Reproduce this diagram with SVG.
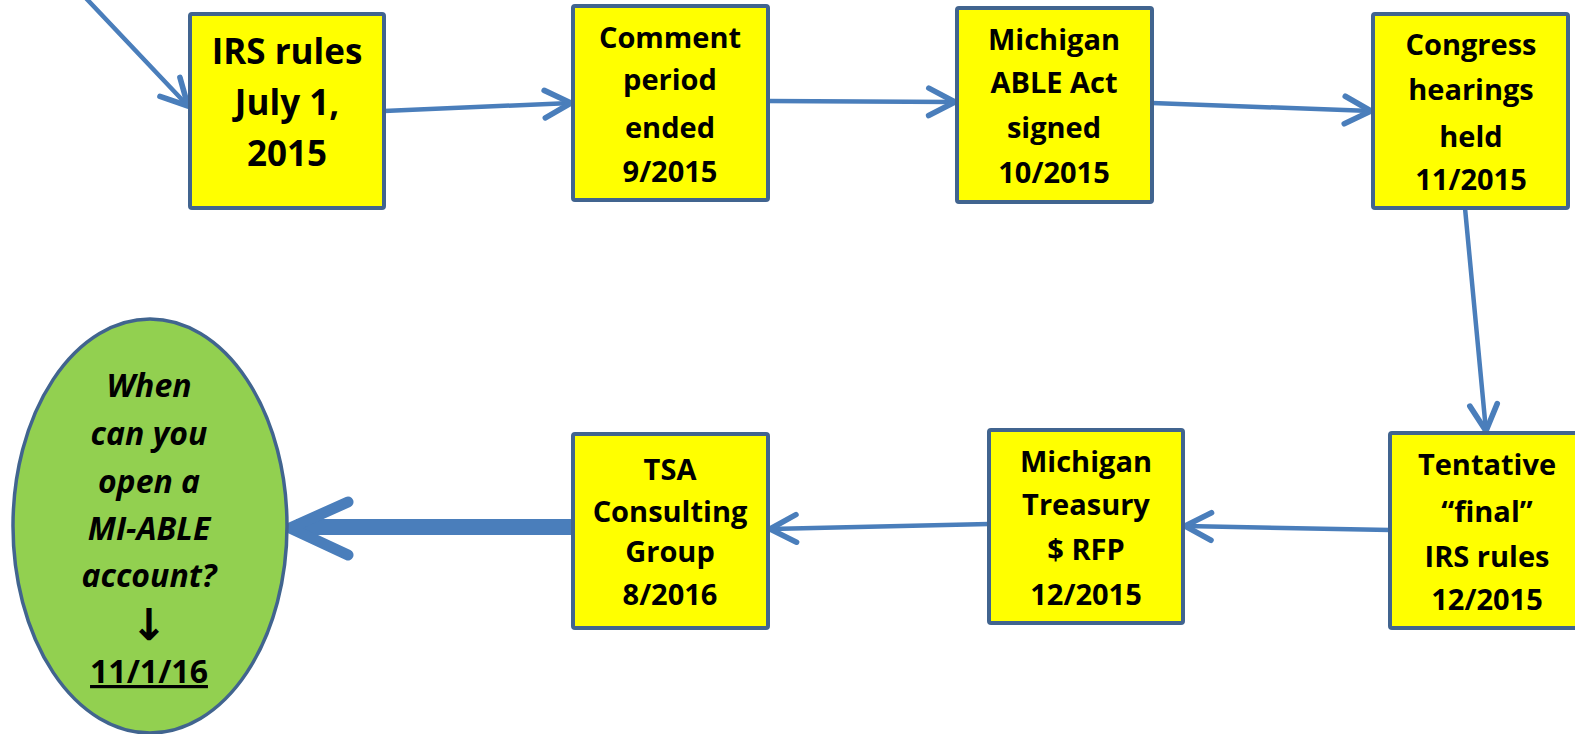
<svg xmlns="http://www.w3.org/2000/svg" width="1575" height="734" viewBox="0 0 1575 734">
<style>
.box{fill:#FFFF00;stroke:#41648F;stroke-width:4;}
.t{font-family:"Open Sans","Liberation Sans",sans-serif;font-weight:bold;fill:#000;text-anchor:middle;font-size:29px;}
.big{font-size:35px;}
.it{font-style:italic;font-size:32px;}
.c{fill:none;stroke:#4A7EBB;stroke-width:4.5;stroke-linecap:round;stroke-linejoin:round;}
</style>
<defs>
<marker id="ah" markerUnits="userSpaceOnUse" markerWidth="40" markerHeight="40" viewBox="-26 -16 30 32" refX="0" refY="0" orient="auto" overflow="visible">
<path d="M-21,-11 L0,0 L-21,11" fill="none" stroke="#4A7EBB" stroke-width="4.5" stroke-linecap="round" stroke-linejoin="round"/>
</marker>
</defs>
<rect width="1575" height="734" fill="#fff"/>
<g id="connectors">
<line class="c" x1="82" y1="-6" x2="188" y2="106" marker-end="url(#ah)"/>
<line class="c" x1="384" y1="111" x2="571" y2="103" marker-end="url(#ah)"/>
<line class="c" x1="768" y1="101" x2="955" y2="102" marker-end="url(#ah)"/>
<line class="c" x1="1152" y1="103" x2="1371" y2="111" marker-end="url(#ah)"/>
<line class="c" x1="1465" y1="208" x2="1486" y2="431" marker-end="url(#ah)"/>
<line class="c" x1="1390" y1="530" x2="1185" y2="526" marker-end="url(#ah)"/>
<line class="c" x1="989" y1="524" x2="770" y2="529" marker-end="url(#ah)"/>
<line x1="573" y1="527" x2="296" y2="527" stroke="#4A7EBB" stroke-width="16"/>
<path d="M348,502 L290,528 L348,555" fill="none" stroke="#4A7EBB" stroke-width="11" stroke-linecap="round" stroke-linejoin="round"/>
</g>
<g id="n1">
<rect class="box" x="190" y="14" width="194" height="194" rx="2"/>
<text class="t big" x="287" y="64">IRS rules</text>
<text class="t big" x="287" y="115">July 1,</text>
<text class="t big" x="287" y="166">2015</text>
</g>
<g id="n2">
<rect class="box" x="573" y="6" width="195" height="194" rx="2"/>
<text class="t" x="670" y="48">Comment</text>
<text class="t" x="670" y="90">period</text>
<text class="t" x="670" y="138">ended</text>
<text class="t" x="670" y="182">9/2015</text>
</g>
<g id="n3">
<rect class="box" x="957" y="8" width="195" height="194" rx="2"/>
<text class="t" x="1054" y="50">Michigan</text>
<text class="t" x="1054" y="93">ABLE Act</text>
<text class="t" x="1054" y="138">signed</text>
<text class="t" x="1054" y="183">10/2015</text>
</g>
<g id="n4">
<rect class="box" x="1373" y="14" width="195" height="194" rx="2"/>
<text class="t" x="1471" y="55">Congress</text>
<text class="t" x="1471" y="100">hearings</text>
<text class="t" x="1471" y="147">held</text>
<text class="t" x="1471" y="190">11/2015</text>
</g>
<g id="n5">
<rect class="box" x="1390" y="433" width="195" height="195" rx="2"/>
<text class="t" x="1487" y="475">Tentative</text>
<text class="t" x="1487" y="522">“final”</text>
<text class="t" x="1487" y="567">IRS rules</text>
<text class="t" x="1487" y="610">12/2015</text>
</g>
<g id="n6">
<rect class="box" x="989" y="430" width="194" height="193" rx="2"/>
<text class="t" x="1086" y="472">Michigan</text>
<text class="t" x="1086" y="515">Treasury</text>
<text class="t" x="1086" y="560">$ RFP</text>
<text class="t" x="1086" y="605">12/2015</text>
</g>
<g id="n7">
<rect class="box" x="573" y="434" width="195" height="194" rx="2"/>
<text class="t" x="670" y="480">TSA</text>
<text class="t" x="670" y="522">Consulting</text>
<text class="t" x="670" y="562">Group</text>
<text class="t" x="670" y="605">8/2016</text>
</g>
<g id="n8">
<ellipse cx="150" cy="526" rx="137" ry="207" fill="#92D050" stroke="#41648F" stroke-width="3.5"/>
<text class="t it" x="149" y="397">When</text>
<text class="t it" x="149" y="445">can you</text>
<text class="t it" x="149" y="493">open a</text>
<text class="t it" x="149" y="540">MI-ABLE</text>
<text class="t it" x="149" y="587">account?</text>
<text class="t" x="149" y="640" style="font-size:44px;font-family:'DejaVu Sans',sans-serif;font-weight:bold">↓</text>
<text class="t" x="149" y="683" style="font-size:32px;text-decoration:underline">11/1/16</text>
</g>
</svg>
